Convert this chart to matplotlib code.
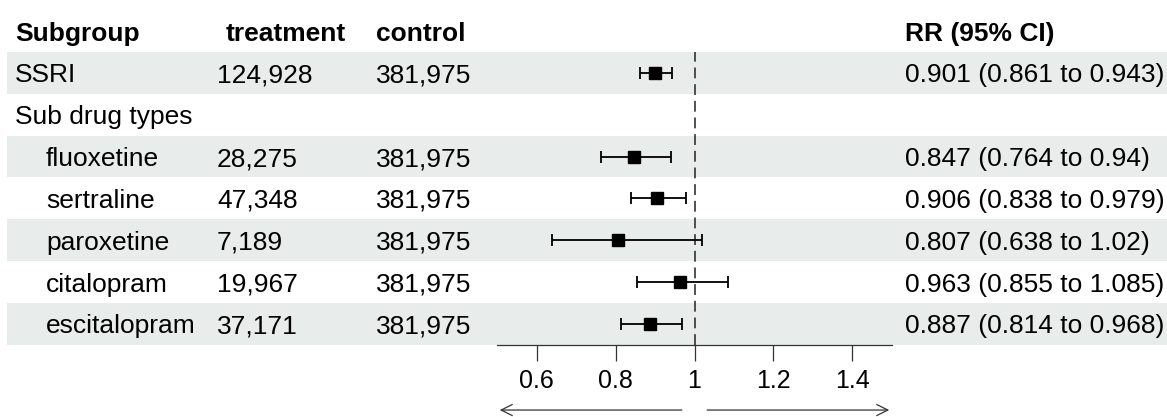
import math
import matplotlib
matplotlib.use("Agg")
import matplotlib.pyplot as plt

plt.rcParams['font.family'] = ['Liberation Sans', 'DejaVu Sans']

# table data
names = ["SSRI", "Sub drug types", "fluoxetine", "sertraline", "paroxetine", "citalopram", "escitalopram"]
indent = [False, False, True, True, True, True, True]
treatment = ["124,928", "", "28,275", "47,348", "7,189", "19,967", "37,171"]
control = ["381,975", "", "381,975", "381,975", "381,975", "381,975", "381,975"]
rr = [0.901, None, 0.847, 0.906, 0.807, 0.963, 0.887]
lower = [0.861, None, 0.764, 0.838, 0.638, 0.855, 0.814]
upper = [0.943, None, 0.94, 0.979, 1.02, 1.085, 0.968]
xticks = [0.6, 0.8, 1.0, 1.2, 1.4]
xticklabels = ["0.6", "0.8", "1", "1.2", "1.4"]
headers = ["Subgroup", "treatment", "control", "RR (95% CI)"]

W, H = 1167, 417
FS = 19
band_col = "#e8ecea"
txt_col = "#000000"

fig = plt.figure(figsize=(W / 100, H / 100), dpi=100)

# background axes: x in figure fraction, y in row units (row 0 = header)
bg = fig.add_axes([0, 0, 1, 1])
bg.set_xlim(0, 1)
bg.set_ylim(9.224, -0.741)
bg.axis("off")

def px(x):
  return x / W

# shaded bands on alternating rows
for i in range(len(names)):
  r = i + 1
  if i % 2 == 0:
    bg.axhspan(r - 0.5, r + 0.5, xmin=px(7), xmax=1, color=band_col, lw=0, zorder=0)

# header
col_x = [px(15), px(226), px(376), px(905)]
for x, h in zip(col_x, headers):
  bg.text(x, 0, h, fontsize=FS, fontweight="bold", va="center_baseline", ha="left", color=txt_col)

# rows
for i in range(len(names)):
  r = i + 1
  nx = px(46) if indent[i] else px(15)
  bg.text(nx, r, names[i], fontsize=FS, va="center_baseline", ha="left", color=txt_col)
  bg.text(px(217), r, treatment[i], fontsize=FS, va="center_baseline", ha="left", color=txt_col)
  bg.text(px(376), r, control[i], fontsize=FS, va="center_baseline", ha="left", color=txt_col)
  if rr[i] is not None:
    lab = str(rr[i]) + " (" + str(lower[i]) + " to " + str(upper[i]) + ")"
    bg.text(px(905), r, lab, fontsize=FS, va="center_baseline", ha="left", color=txt_col)

# forest plot axes
ax = fig.add_axes([px(497), (H - 345) / H, (892 - 497) / W, (345 - 52) / H])
ax.patch.set_alpha(0)
ax.set_xlim(0.5, 1.5)
ax.set_ylim(7.5, 0.5)
for i in range(len(names)):
  if rr[i] is None:
    continue
  r = i + 1
  ax.errorbar(rr[i], r, xerr=[[rr[i] - lower[i]], [upper[i] - rr[i]]], fmt="s",
              color="black", ms=8.5, elinewidth=1.3, capsize=4, capthick=1.3, zorder=3)
ax.axvline(1, color="#333333", lw=1.2, dashes=(6.5, 3.5), zorder=2)

for s in ["top", "left", "right"]:
  ax.spines[s].set_visible(False)
ax.spines["bottom"].set_color("#333333")
ax.spines["bottom"].set_linewidth(0.9)
ax.set_yticks([])
ax.set_xticks(xticks)
ax.set_xticklabels(xticklabels)
ax.tick_params(axis="x", length=11.5, width=0.9, color="#333333", pad=6, labelsize=18, labelcolor=txt_col)

# direction arrows under the axis
tr = ax.get_xaxis_transform()
ax.annotate("", xy=(0.5, -0.222), xytext=(0.975, -0.222), xycoords=tr, textcoords=tr,
            arrowprops=dict(arrowstyle="->", lw=0.9, color="#333333", mutation_scale=20), annotation_clip=False)
ax.annotate("", xy=(1.5, -0.222), xytext=(1.025, -0.222), xycoords=tr, textcoords=tr,
            arrowprops=dict(arrowstyle="->", lw=0.9, color="#333333", mutation_scale=20), annotation_clip=False)

plt.savefig("out.png", dpi=100)
plt.close()
